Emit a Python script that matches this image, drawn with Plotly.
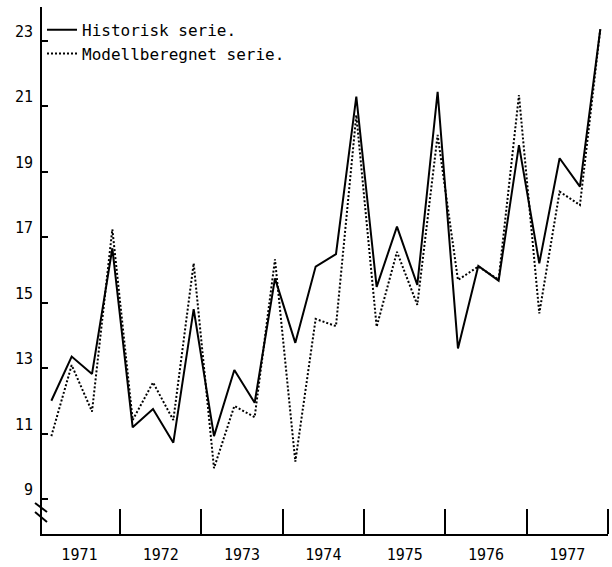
import plotly.graph_objects as go

years = [1971, 1972, 1973, 1974, 1975, 1976, 1977]
quarters = [1, 2, 3, 4]
year_labels = ["1971", "1972", "1973", "1974", "1975", "1976", "1977"]
y_ticks = [9, 11, 13, 15, 17, 19, 21, 23]

historisk = [12.0, 13.35, 12.82, 16.66, 11.19, 11.75, 10.72, 14.8,
             10.92, 12.94, 11.94, 15.74, 13.77, 16.10, 16.48, 21.29,
             15.48, 17.32, 15.54, 21.44, 13.6, 16.12, 15.67, 19.81,
             16.2, 19.41, 18.54, 23.35]
modell = [10.92, 13.09, 11.67, 17.24, 11.41, 12.56, 11.41, 16.2,
          9.94, 11.84, 11.5, 16.32, 10.14, 14.5, 14.28, 20.73,
          14.26, 16.55, 14.93, 20.12, 15.69, 16.1, 15.7, 21.34,
          14.67, 18.39, 17.98, 23.35]

x = [y + (q - 1) / 4 + 0.155 for y in years for q in quarters]

FONT = "DejaVu Sans Mono"

fig = go.Figure()
fig.add_trace(go.Scatter(x=x, y=historisk, mode="lines", name="Historisk serie.",
                         line=dict(color="black", width=2)))
fig.add_trace(go.Scatter(x=x, y=modell, mode="lines", name="Modellberegnet serie.",
                         line=dict(color="black", width=2, dash="2px,2px")))

# axis break marks
for y0, y1 in [(31, 22), (22, 12)]:
    fig.add_shape(type="line", xref="x domain", yref="y domain",
                  xsizemode="pixel", ysizemode="pixel", xanchor=0, yanchor=0,
                  x0=-7, x1=5, y0=y0, y1=y1,
                  line=dict(color="black", width=2))

fig.update_layout(
    width=612, height=567,
    margin=dict(l=42, r=4, t=7, b=33, autoexpand=False),
    paper_bgcolor="white", plot_bgcolor="white",
    font=dict(family=FONT, size=15, color="black"),
    showlegend=True,
    legend=dict(x=0.0, y=0.989, xanchor="left", yanchor="top",
                bgcolor="rgba(0,0,0,0)", font=dict(family=FONT, size=16),
                itemwidth=30, tracegroupgap=0),
    xaxis=dict(range=[1971.04, 1978.0], showgrid=False, zeroline=False,
               showline=True, linecolor="black", linewidth=2, automargin=False,
               tickmode="array", tickvals=[y + 0.5 for y in years], ticktext=year_labels,
               ticks="", ticklabelstandoff=6, tickfont=dict(family=FONT, size=15),
               minor=dict(tickmode="array", tickvals=[y + 1 for y in years],
                          ticks="inside", ticklen=25, tickwidth=2, tickcolor="black",
                          showgrid=False)),
    yaxis=dict(range=[7.93, 24.03], showgrid=False, zeroline=False,
               showline=True, linecolor="black", linewidth=2, automargin=False,
               tickmode="array", tickvals=y_ticks, ticktext=[str(v) for v in y_ticks],
               ticks="inside", ticklen=6, tickwidth=2, tickcolor="black",
               ticklabelshift=-9, ticklabelstandoff=4,
               tickfont=dict(family=FONT, size=15)),
)

fig.write_html("out.html")
